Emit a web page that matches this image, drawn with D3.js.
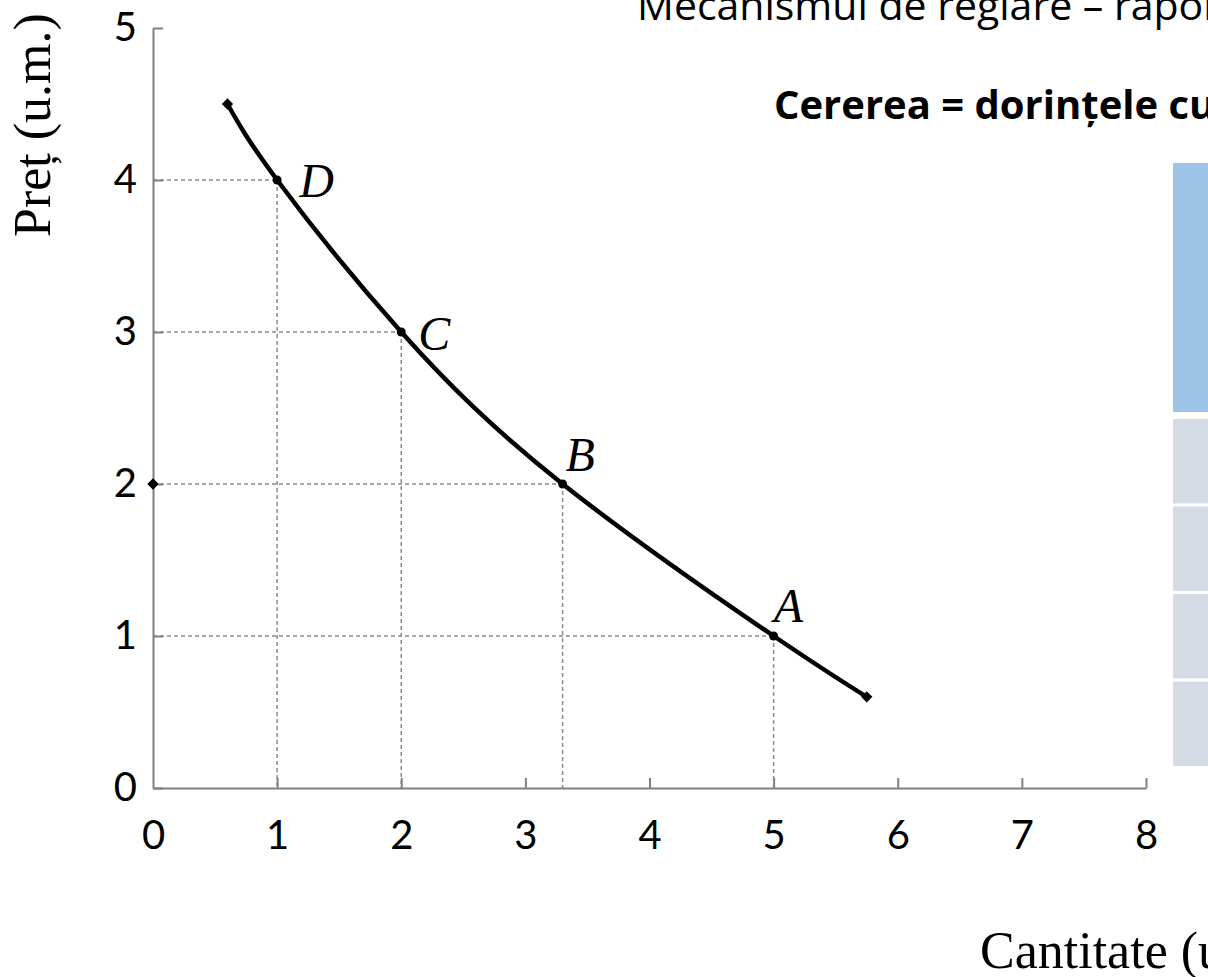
<!DOCTYPE html>
<html>
<head>
<meta charset="utf-8">
<script src="https://cdn.jsdelivr.net/npm/d3@7"></script>
<style>
  html, body { margin: 0; padding: 0; background: #fff; overflow: hidden; }
  svg { display: block; }
  .tick text { font-family: Lato, "Open Sans", sans-serif; fill: #000; }
</style>
</head>
<body>
<div id="chart"></div>
<script>
// demand curve
var curveQty = [0.6, 1, 2, 3.3, 5, 5.75];
var curvePrice = [4.5, 4, 3, 2, 1, 0.6];

// labelled points
var pointNames = ['D', 'C', 'B', 'A'];
var pointQty = [1, 2, 3.3, 5];
var pointPrice = [4, 3, 2, 1];

var xTicks = [0, 1, 2, 3, 4, 5, 6, 7, 8];
var yTicks = [0, 1, 2, 3, 4, 5];

// table on the right (header + rows)
var tableRows = ['header', 'r1', 'r2', 'r3', 'r4'];

var width = 1208, height = 977;

var svg = d3.select('#chart').append('svg')
    .attr('width', width)
    .attr('height', height);

var x = d3.scaleLinear().domain([0, 8]).range([153, 1146]);
var y = d3.scaleLinear().domain([0, 5]).range([788, 28]);

// slide texts behind the chart
svg.append('text')
    .attr('x', 637)
    .attr('y', 20)
    .style('font-family', '"Open Sans", sans-serif')
    .style('font-size', '41px')
    .text('Mecanismul de reglare – raportul cerere-ofertă');

svg.append('text')
    .attr('x', 774)
    .attr('y', 119)
    .style('font-family', '"Open Sans", sans-serif')
    .style('font-weight', 'bold')
    .style('font-size', '40px')
    .text('Cererea = dorințele cumpărătorilor');

// table stub on the right edge
var rowY = d3.scaleBand().domain(tableRows.slice(1)).range([419, 766]).paddingInner(0.035);
svg.selectAll('rect.row')
    .data(tableRows)
    .enter()
    .append('rect')
    .attr('class', 'row')
    .attr('x', 1173)
    .attr('width', 40)
    .attr('y', function(d) { return d === 'header' ? 163 : rowY(d); })
    .attr('height', function(d) { return d === 'header' ? 249 : rowY.bandwidth(); })
    .style('fill', function(d) { return d === 'header' ? '#9dc3e6' : '#d4dbe5'; });

// dashed guides
var guides = svg.append('g')
    .style('stroke', '#8a8a8a')
    .style('stroke-width', 1.5)
    .style('stroke-dasharray', '4,3')
    .style('fill', 'none');

pointQty.forEach(function(q, i) {
  guides.append('line')
      .attr('x1', x(0)).attr('x2', x(q))
      .attr('y1', y(pointPrice[i])).attr('y2', y(pointPrice[i]));
  guides.append('line')
      .attr('x1', x(q)).attr('x2', x(q))
      .attr('y1', y(pointPrice[i])).attr('y2', y(0));
});

// axes
var xAxis = d3.axisBottom(x)
    .tickValues(xTicks)
    .tickFormat(d3.format('d'))
    .tickSizeInner(-10)
    .tickSizeOuter(0)
    .tickPadding(33);

var yAxis = d3.axisLeft(y)
    .tickValues(yTicks)
    .tickFormat(d3.format('d'))
    .tickSizeInner(-10)
    .tickSizeOuter(0)
    .tickPadding(16);

var gx = svg.append('g')
    .attr('transform', 'translate(0,' + y(0) + ')')
    .call(xAxis);

var gy = svg.append('g')
    .attr('transform', 'translate(' + x(0) + ',0)')
    .call(yAxis);

[gx, gy].forEach(function(g) {
  g.selectAll('path, line').style('stroke', '#808080').style('stroke-width', 2);
  g.selectAll('text').style('font-size', '40px');
});
gx.selectAll('.tick').filter(function(d) { return d === 0; }).select('line').remove();

// demand curve
var curveData = curveQty.map(function(q, i) { return [q, curvePrice[i]]; });
var line = d3.line()
    .x(function(d) { return x(d[0]); })
    .y(function(d) { return y(d[1]); })
    .curve(d3.curveNatural);

svg.append('path')
    .datum(curveData)
    .attr('d', line)
    .style('fill', 'none')
    .style('stroke', '#000')
    .style('stroke-width', 4.5);

// diamond end markers + the one on the price axis
var diamond = d3.symbol().type(d3.symbolSquare).size(64);
var ends = [curveData[0], curveData[curveData.length - 1], [0, 2]];
svg.selectAll('path.end')
    .data(ends)
    .enter()
    .append('path')
    .attr('class', 'end')
    .attr('d', diamond)
    .attr('transform', function(d) { return 'translate(' + x(d[0]) + ',' + y(d[1]) + ') rotate(45)'; })
    .style('fill', '#000');

svg.selectAll('circle.pt')
    .data(pointQty)
    .enter()
    .append('circle')
    .attr('class', 'pt')
    .attr('cx', function(d) { return x(d); })
    .attr('cy', function(d, i) { return y(pointPrice[i]); })
    .attr('r', 4.5)
    .style('fill', '#000');

// point letters
var labelDx = [22, 17, 3, 0];
var labelDy = [17, 18, -13, -14];
svg.selectAll('text.pt')
    .data(pointNames)
    .enter()
    .append('text')
    .attr('class', 'pt')
    .attr('x', function(d, i) { return x(pointQty[i]) + labelDx[i]; })
    .attr('y', function(d, i) { return y(pointPrice[i]) + labelDy[i]; })
    .style('font-family', '"Liberation Serif", "Times New Roman", serif')
    .style('font-style', 'italic')
    .style('font-size', '48px')
    .text(function(d) { return d; });

// axis titles
svg.append('text')
    .attr('transform', 'translate(50,237) rotate(-90)')
    .style('font-family', '"Liberation Serif", "Times New Roman", serif')
    .style('font-size', '52px')
    .text('Preț (u.m.)');

svg.append('text')
    .attr('x', 980)
    .attr('y', 968)
    .style('font-family', '"Liberation Serif", "Times New Roman", serif')
    .style('font-size', '52px')
    .text('Cantitate (u.m.)');
</script>
</body>
</html>
